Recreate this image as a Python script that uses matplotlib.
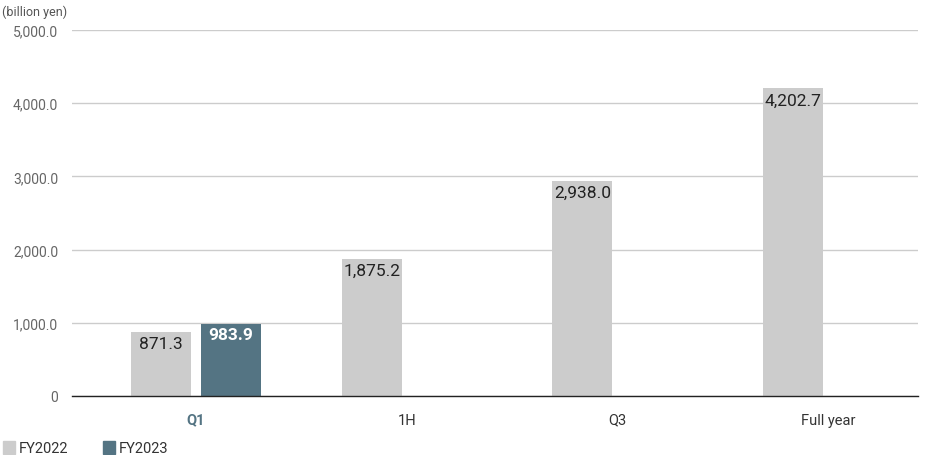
import matplotlib
matplotlib.use("Agg")
import matplotlib.pyplot as plt
from matplotlib.patches import Rectangle

categories = ["Q1", "1H", "Q3", "Full year"]
fy2022 = [871.3, 1875.2, 2938.0, 4202.7]
fy2023 = [983.9, None, None, None]
series_names = ["FY2022", "FY2023"]
yticks = [0, 1000, 2000, 3000, 4000, 5000]
ytick_labels = ["0", "1,000.0", "2,000.0", "3,000.0", "4,000.0", "5,000.0"]

c22 = "#cccccc"
c23 = "#547483"

plt.rcParams['font.family'] = ['Roboto', 'DejaVu Sans']

fig = plt.figure(figsize=(9.36, 4.56), dpi=100)
ax = fig.add_axes([72/936, (456-397)/456, (918-72)/936, (397-31)/456])

w = 0.285
off = 0.166
x = list(range(len(categories)))
for i in x:
    ax.bar(i - off, fy2022[i], width=w, color=c22, zorder=2)
    ax.text(i - off, fy2022[i] - 55, f"{fy2022[i]:,.1f}", ha="center", va="top",
            fontsize=12.5, color="#222222", zorder=3)
    if fy2023[i] is not None:
        ax.bar(i + off, fy2023[i], width=w, color=c23, zorder=2)
        ax.text(i + off, fy2023[i] - 45, f"{fy2023[i]:,.1f}", ha="center", va="top",
                fontsize=12.5, color="white", fontweight="bold", zorder=3)

ax.set_xlim(-0.589, 3.427)
ax.set_ylim(0, 5000)
ax.set_yticks(yticks)
ax.set_yticklabels(ytick_labels, fontsize=10, color="#666666")
ax.set_xticks(x)
ax.set_xticklabels(categories, fontsize=10.5, color="#333333")
for lbl in ax.get_xticklabels():
    if lbl.get_text() == "Q1":
        lbl.set_color(c23)
        lbl.set_fontweight("bold")
ax.tick_params(axis="both", length=0)
ax.tick_params(axis="y", pad=10)
ax.tick_params(axis="x", pad=12)
ax.grid(axis="y", color="#cccccc", linewidth=1, zorder=0)
for s in ["top", "right", "left"]:
    ax.spines[s].set_visible(False)
ax.spines["bottom"].set_color("#222222")
ax.spines["bottom"].set_linewidth(1)
ax.spines["bottom"].set_zorder(4)

fig.text(2/936, 1 - 12/456, "(billion yen)", fontsize=9, color="#555555", va="center", ha="left")

# legend
for xs, name, col in [(3, series_names[0], c22), (103, series_names[1], c23)]:
    fig.patches.append(Rectangle((xs/936, 1 - 455/456), 12/936, 13/456, transform=fig.transFigure,
                                 color=col, figure=fig))
    fig.text((xs + 16)/936, 1 - 449/456, name, fontsize=10.5, color="#333333", va="center", ha="left")

fig.savefig("out.png", dpi=100)
